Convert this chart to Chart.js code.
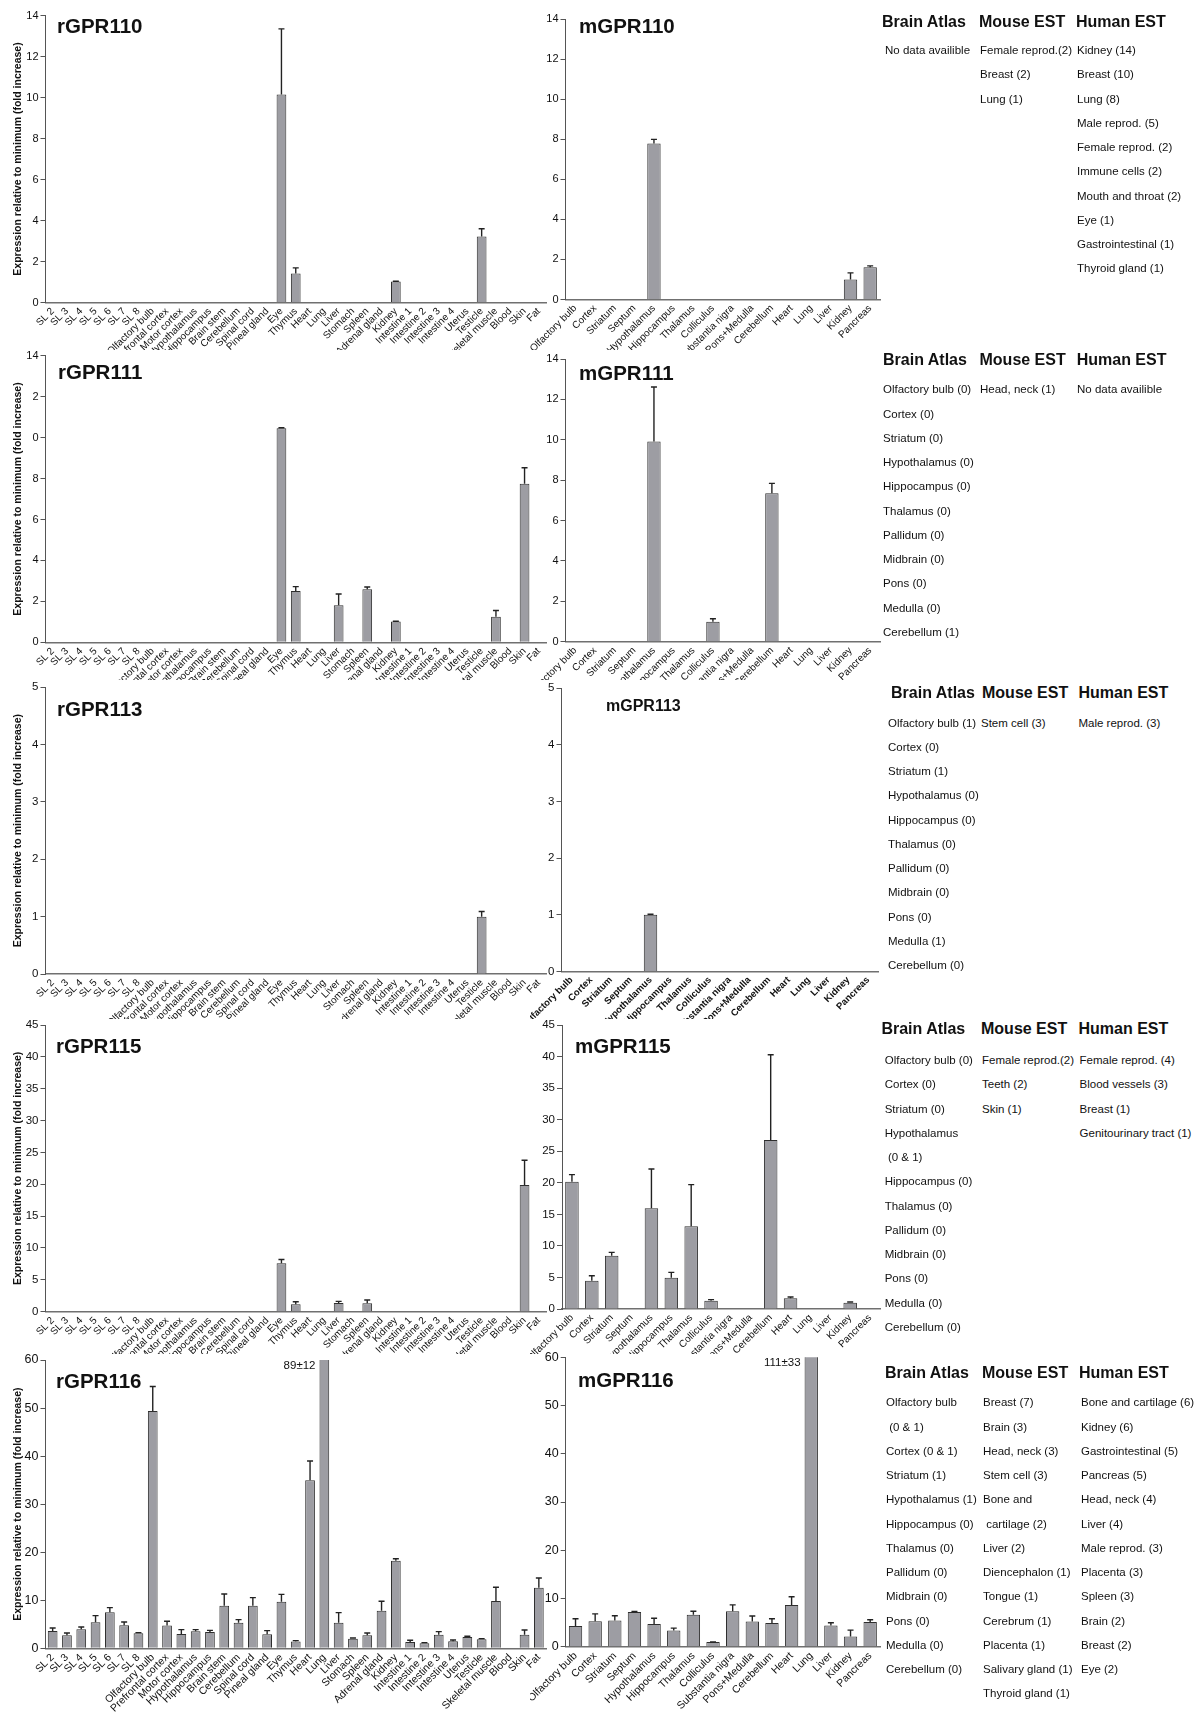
<!DOCTYPE html>
<html>
<head>
<meta charset="utf-8">
<script src="https://cdn.jsdelivr.net/npm/chart.js@4.4.1/dist/chart.umd.min.js"></script>
<style>
  body { margin: 0; width: 1200px; height: 1717px; position: relative; overflow: hidden; background: #fff;
         font-family: "Liberation Sans", Arial, sans-serif; color: #111; }
  canvas { position: absolute; }
  .name { position: absolute; font-weight: bold; line-height: 1; white-space: nowrap; }
  .hdr { position: absolute; font-weight: bold; font-size: 16px; line-height: 20px; white-space: nowrap; }
  .lst { position: absolute; font-size: 11.5px; line-height: 24.25px; white-space: pre; }
</style>
</head>
<body>
<script>
// ---- categories ----
const ratTissues = ['SL 2', 'SL 3', 'SL 4', 'SL 5', 'SL 6', 'SL 7', 'SL 8', 'Olfactory bulb', 'Prefrontal cortex',
  'Motor cortex', 'Hypothalamus', 'Hippocampus', 'Brain stem', 'Cerebellum', 'Spinal cord', 'Pineal gland', 'Eye',
  'Thymus', 'Heart', 'Lung', 'Liver', 'Stomach', 'Spleen', 'Adrenal gland', 'Kidney', 'Intestine 1', 'Intestine 2',
  'Intestine 3', 'Intestine 4', 'Uterus', 'Testicle', 'Skeletal muscle', 'Blood', 'Skin', 'Fat'];
const mouseTissues = ['Olfactory bulb', 'Cortex', 'Striatum', 'Septum', 'Hypothalamus', 'Hippocampus', 'Thalamus',
  'Colliculus', 'Substantia nigra', 'Pons+Medulla', 'Cerebellum', 'Heart', 'Lung', 'Liver', 'Kidney', 'Pancreas'];

// ---- expression values (fold increase) and SEM ----
const rGPR110 = [0,0,0,0,0,0,0,0,0,0,0,0,0,0,0,0, 10.15,1.42, 0,0,0,0,0,0, 1.02, 0,0,0,0,0, 3.22, 0,0,0,0];
const rGPR110Err = [0,0,0,0,0,0,0,0,0,0,0,0,0,0,0,0, 3.2,0.27, 0,0,0,0,0,0, 0.02, 0,0,0,0,0, 0.38, 0,0,0,0];
const mGPR110 = [0,0,0,0, 7.79, 0,0,0,0,0,0,0,0,0, 1.0, 1.61];
const mGPR110Err = [0,0,0,0, 0.2, 0,0,0,0,0,0,0,0,0, 0.33, 0.07];

const rGPR111 = [0,0,0,0,0,0,0,0,0,0,0,0,0,0,0,0, 10.45,2.51, 0,0, 1.81, 0, 2.59, 0, 1.01, 0,0,0,0,0,0, 1.25, 0, 7.75, 0];
const rGPR111Err = [0,0,0,0,0,0,0,0,0,0,0,0,0,0,0,0, 0.03,0.21, 0,0, 0.55, 0, 0.11, 0, 0.02, 0,0,0,0,0,0, 0.3, 0, 0.78, 0];
const rGPR111Ticks = ['0', '2', '4', '6', '8', '0', '2', '14'];
const mGPR111 = [0,0,0,0, 9.91, 0,0, 0.99, 0,0, 7.35, 0,0,0,0,0];
const mGPR111Err = [0,0,0,0, 2.7, 0,0, 0.15, 0,0, 0.49, 0,0,0,0,0];

const rGPR113 = [0,0,0,0,0,0,0,0,0,0,0,0,0,0,0,0,0,0,0,0,0,0,0,0,0,0,0,0,0,0, 1.0, 0,0,0,0];
const rGPR113Err = [0,0,0,0,0,0,0,0,0,0,0,0,0,0,0,0,0,0,0,0,0,0,0,0,0,0,0,0,0,0, 0.09, 0,0,0,0];
const mGPR113 = [0,0,0,0, 1.0, 0,0,0,0,0,0,0,0,0,0,0];
const mGPR113Err = [0,0,0,0, 0.01, 0,0,0,0,0,0,0,0,0,0,0];

const rGPR115 = [0,0,0,0,0,0,0,0,0,0,0,0,0,0,0,0, 7.59,1.15, 0,0, 1.36, 0, 1.31, 0,0,0,0,0,0,0,0,0,0, 19.9, 0];
const rGPR115Err = [0,0,0,0,0,0,0,0,0,0,0,0,0,0,0,0, 0.61,0.42, 0,0, 0.26, 0, 0.52, 0,0,0,0,0,0,0,0,0,0, 3.86, 0];
const mGPR115 = [20.18, 4.49, 8.45, 0, 15.95, 4.97, 13.1, 1.32, 0, 0, 26.78, 1.69, 0, 0, 1.0, 0];
const mGPR115Err = [1.11, 0.79, 0.53, 0, 6.24, 0.84, 6.6, 0.16, 0, 0, 13.5, 0.21, 0, 0, 0.1, 0];

const rGPR116 = [3.61, 2.70, 3.95, 5.41, 7.49, 4.79, 3.12, 49.4, 4.72, 2.98, 3.54, 3.40, 8.88, 5.34, 8.88, 2.91,
  9.71, 1.39, 34.95, 89, 5.34, 2.01, 2.70, 7.84, 18.24, 1.32, 1.04, 2.84, 1.46, 2.36, 1.87, 9.85, 0, 2.84, 12.62];
const rGPR116Err = [0.62, 0.49, 0.49, 1.39, 0.97, 0.69, 0.14, 5.1, 0.9, 0.9, 0.34, 0.34, 2.42, 0.62, 1.66, 0.77,
  1.52, 0.21, 4.02, 12, 2.08, 0.14, 0.49, 1.94, 0.41, 0.34, 0.14, 0.63, 0.27, 0.14, 0.14, 2.84, 0, 0.97, 2.01];
const mGPR116 = [4.3, 5.3, 5.45, 7.2, 4.7, 3.36, 6.64, 0.95, 7.34, 5.24, 4.9, 8.67, 111, 4.41, 2.1, 5.1];
const mGPR116Err = [1.5, 1.5, 0.98, 0.1, 1.19, 0.49, 0.7, 0.05, 1.33, 1.12, 0.9, 1.68, 33, 0.56, 1.33, 0.5];

// ---- database hits shown beside each row ----
const atlas110 = ['No data availible'];
const mouse110 = ['Female reprod.(2)', 'Breast (2)', 'Lung (1)'];
const human110 = ['Kidney (14)', 'Breast (10)', 'Lung (8)', 'Male reprod. (5)', 'Female reprod. (2)', 'Immune cells (2)',
  'Mouth and throat (2)', 'Eye (1)', 'Gastrointestinal (1)', 'Thyroid gland (1)'];
const atlas111 = ['Olfactory bulb (0)', 'Cortex (0)', 'Striatum (0)', 'Hypothalamus (0)', 'Hippocampus (0)', 'Thalamus (0)',
  'Pallidum (0)', 'Midbrain (0)', 'Pons (0)', 'Medulla (0)', 'Cerebellum (1)'];
const mouse111 = ['Head, neck (1)'];
const human111 = ['No data availible'];
const atlas113 = ['Olfactory bulb (1)', 'Cortex (0)', 'Striatum (1)', 'Hypothalamus (0)', 'Hippocampus (0)', 'Thalamus (0)',
  'Pallidum (0)', 'Midbrain (0)', 'Pons (0)', 'Medulla (1)', 'Cerebellum (0)'];
const mouse113 = ['Stem cell (3)'];
const human113 = ['Male reprod. (3)'];
const atlas115 = ['Olfactory bulb (0)', 'Cortex (0)', 'Striatum (0)', 'Hypothalamus', ' (0 & 1)', 'Hippocampus (0)',
  'Thalamus (0)', 'Pallidum (0)', 'Midbrain (0)', 'Pons (0)', 'Medulla (0)', 'Cerebellum (0)'];
const mouse115 = ['Female reprod.(2)', 'Teeth (2)', 'Skin (1)'];
const human115 = ['Female reprod. (4)', 'Blood vessels (3)', 'Breast (1)', 'Genitourinary tract (1)'];
const atlas116 = ['Olfactory bulb', ' (0 & 1)', 'Cortex (0 & 1)', 'Striatum (1)', 'Hypothalamus (1)', 'Hippocampus (0)',
  'Thalamus (0)', 'Pallidum (0)', 'Midbrain (0)', 'Pons (0)', 'Medulla (0)', 'Cerebellum (0)'];
const mouse116 = ['Breast (7)', 'Brain (3)', 'Head, neck (3)', 'Stem cell (3)', 'Bone and', ' cartilage (2)', 'Liver (2)',
  'Diencephalon (1)', 'Tongue (1)', 'Cerebrum (1)', 'Placenta (1)', 'Salivary gland (1)', 'Thyroid gland (1)'];
const human116 = ['Bone and cartilage (6)', 'Kidney (6)', 'Gastrointestinal (5)', 'Pancreas (5)', 'Head, neck (4)',
  'Liver (4)', 'Male reprod. (3)', 'Placenta (3)', 'Spleen (3)', 'Brain (2)', 'Breast (2)', 'Eye (2)'];
const tableHeads = ['Brain Atlas', 'Mouse EST', 'Human EST'];

const FONT = '"Liberation Sans", Arial, sans-serif';
const yTitle = 'Expression relative to minimum (fold increase)';
const rowTop = [0, 350, 680, 1019, 1354, 1717];
const mouseTop = [0, 350, 679, 1019, 1348];

// error bars (upper only), drawn through the y scale
const errorBars = {
  id: 'errorBars',
  afterDatasetsDraw(chart) {
    const ctx = chart.ctx, a = chart.chartArea, ys = chart.scales.y;
    const ds = chart.data.datasets[0];
    ctx.save();
    ctx.beginPath();
    ctx.rect(a.left, a.top - 1, a.right - a.left, a.bottom - a.top + 1);
    ctx.clip();
    ctx.strokeStyle = '#222';
    ctx.lineWidth = 1.4;
    chart.getDatasetMeta(0).data.forEach((bar, i) => {
      const v = ds.data[i], e = ds.errors[i];
      if (!v || !e) return;
      const top = ys.getPixelForValue(v + e);
      ctx.beginPath();
      ctx.moveTo(bar.x, bar.y);
      ctx.lineTo(bar.x, top);
      ctx.moveTo(bar.x - 3, top);
      ctx.lineTo(bar.x + 3, top);
      ctx.stroke();
    });
    ctx.restore();
  }
};

// value label for bars that run off the top of the axis
const offScale = {
  id: 'offScale',
  afterDatasetsDraw(chart) {
    const ctx = chart.ctx, a = chart.chartArea, max = chart.scales.y.max;
    const ds = chart.data.datasets[0];
    ctx.save();
    ctx.font = '11.5px ' + FONT;
    ctx.fillStyle = '#111';
    ctx.textAlign = 'right';
    ctx.textBaseline = 'middle';
    chart.getDatasetMeta(0).data.forEach((bar, i) => {
      if (ds.data[i] > max) ctx.fillText(ds.data[i] + '±' + ds.errors[i], bar.x - bar.width / 2 - 4, a.top + 6);
    });
    ctx.restore();
  }
};

function panel(p) {
  const c = document.createElement('canvas');
  c.width = p.w;
  c.height = p.h;
  c.style.left = p.left + 'px';
  c.style.top = p.top + 'px';
  document.body.appendChild(c);
  const [aL, aT, aR, aB] = p.area;
  const yTicks = { stepSize: p.step, padding: 2, color: '#111', font: { size: p.yFont, family: FONT } };
  if (p.tickText) yTicks.callback = (v, i) => p.tickText[i];
  return new Chart(c, {
    type: 'bar',
    data: {
      labels: p.labels,
      datasets: [{
        data: p.values,
        errors: p.errors,
        backgroundColor: '#9d9da3',
        borderColor: '#2e2e2e',
        borderWidth: ctx => (ctx.raw ? 1 : 0),
        barPercentage: 0.68,
        categoryPercentage: 1
      }]
    },
    options: {
      responsive: false,
      animation: false,
      devicePixelRatio: 1,
      layout: { padding: { left: 0, top: aT - p.top, right: p.left + p.w - aR, bottom: 0 } },
      plugins: { legend: { display: false }, tooltip: { enabled: false } },
      scales: {
        x: {
          grid: { display: false, drawTicks: false },
          border: { color: '#707070', width: 1.5 },
          ticks: {
            autoSkip: false, maxRotation: 45, minRotation: 45, padding: 3, color: '#111',
            font: { size: p.xFont, weight: p.xBold ? 'bold' : 'normal', family: FONT }
          },
          afterFit: s => { s.height = p.top + p.h - aB; s.paddingLeft = 0; s.paddingRight = 0; }
        },
        y: {
          min: 0,
          max: p.max,
          ticks: yTicks,
          grid: { drawOnChartArea: false, tickLength: 5, color: '#555' },
          border: { color: '#555', width: 1 },
          title: {
            display: !!p.yTitle, text: yTitle, color: '#111', padding: { top: 12, bottom: 0 },
            font: { size: 10.5, weight: 'bold', family: FONT }
          },
          afterFit: s => { s.width = aL - p.left; s.paddingTop = 0; s.paddingBottom = 0; }
        }
      }
    },
    plugins: [errorBars, offScale]
  });
}

function rat(row, values, errors, max, step, area, yFont, xFont, tickText) {
  return panel({ left: 0, w: 550, top: rowTop[row], h: rowTop[row + 1] - rowTop[row], labels: ratTissues,
    values, errors, max, step, area, yFont, xFont, tickText, yTitle: true });
}
function mouse(row, values, errors, max, step, area, yFont, xFont, xBold) {
  return panel({ left: 530, w: 360, top: mouseTop[row], h: rowTop[row + 1] - mouseTop[row], labels: mouseTissues,
    values, errors, max, step, area, yFont, xFont, xBold });
}

rat(0, rGPR110, rGPR110Err, 14, 2, [45.5, 15.5, 546, 302.5], 11, 10);
mouse(0, mGPR110, mGPR110Err, 14, 2, [565.5, 19, 880, 299.5], 11, 10);
rat(1, rGPR111, rGPR111Err, 14, 2, [45.5, 355.7, 546, 642.3], 11, 10, rGPR111Ticks);
mouse(1, mGPR111, mGPR111Err, 14, 2, [565.5, 359, 880, 641.7], 11, 10);
rat(2, rGPR113, rGPR113Err, 5, 1, [45.5, 687.3, 546, 974], 11.5, 10);
mouse(2, mGPR113, mGPR113Err, 5, 1, [561.5, 688, 878, 971.5], 11.5, 9.5, true);
rat(3, rGPR115, rGPR115Err, 45, 5, [45.5, 1025, 546, 1311.7], 11.5, 10);
mouse(3, mGPR115, mGPR115Err, 45, 5, [562, 1025, 880, 1309], 11.5, 10);
rat(4, rGPR116, rGPR116Err, 60, 10, [45.5, 1360, 546, 1648.3], 12.5, 10.5);
mouse(4, mGPR116, mGPR116Err, 60, 10, [565.7, 1357.3, 880, 1646.7], 12.5, 10.5);

// panel names
function addName(text, x, baseline, size) {
  const d = document.createElement('div');
  d.className = 'name';
  d.textContent = text;
  d.style.fontSize = size + 'px';
  d.style.left = x + 'px';
  d.style.top = (baseline - 0.8465 * size) + 'px';
  document.body.appendChild(d);
}
addName('rGPR110', 57, 33, 20.5);
addName('mGPR110', 579, 33, 20.5);
addName('rGPR111', 58, 379.5, 20.5);
addName('mGPR111', 579, 380, 20.5);
addName('rGPR113', 57, 716, 20.5);
addName('mGPR113', 606, 712, 16);
addName('rGPR115', 56, 1053, 20.5);
addName('mGPR115', 575, 1053, 20.5);
addName('rGPR116', 56, 1388, 20.5);
addName('mGPR116', 578, 1387, 20.5);

// database tables
function addTable(lists, headX, headY, itemX, itemY) {
  tableHeads.forEach((h, k) => {
    const d = document.createElement('div');
    d.className = 'hdr';
    d.textContent = h;
    d.style.left = headX[k] + 'px';
    d.style.top = (headY - 9.8) + 'px';
    document.body.appendChild(d);
    const l = document.createElement('div');
    l.className = 'lst';
    l.textContent = lists[k].join('\n');
    l.style.left = itemX[k] + 'px';
    l.style.top = (itemY - 12) + 'px';
    document.body.appendChild(l);
  });
}
addTable([atlas110, mouse110, human110], [882, 979, 1076], 21.7, [885, 980, 1077], 50);
addTable([atlas111, mouse111, human111], [883, 979.5, 1076.7], 360, [883, 980, 1077], 389.3);
addTable([atlas113, mouse113, human113], [891, 982, 1078.5], 693, [888, 981, 1078.5], 722.6);
addTable([atlas115, mouse115, human115], [881.4, 981, 1078.5], 1029.2, [884.7, 982, 1079.6], 1060);
addTable([atlas116, mouse116, human116], [885, 982, 1079], 1373, [886, 983, 1081], 1402.3);
</script>
</body>
</html>
